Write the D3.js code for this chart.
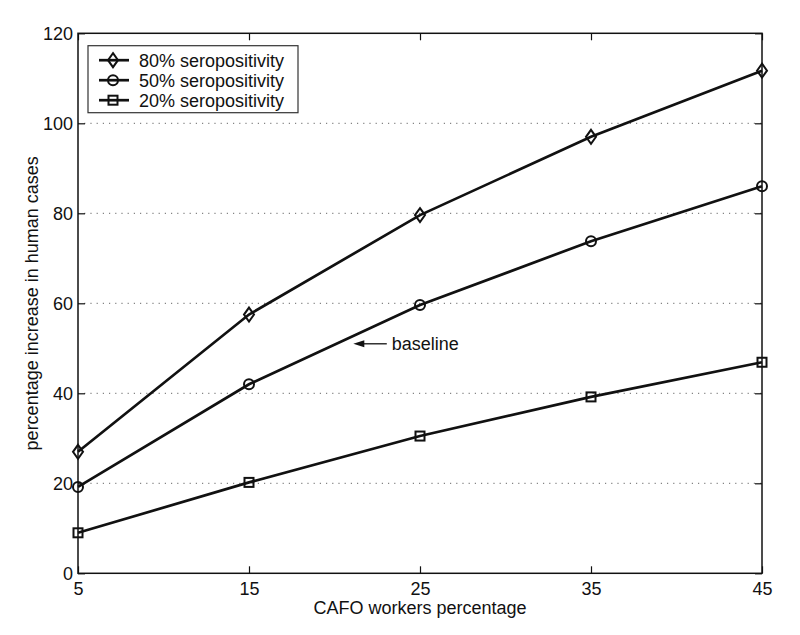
<!DOCTYPE html>
<html><head><meta charset="utf-8">
<script src="https://cdn.jsdelivr.net/npm/d3@7"></script>
<style>body{margin:0;background:#fff}svg{display:block}text{font-family:"Liberation Sans",Arial,sans-serif;fill:#111}</style>
</head><body>
<svg id="c" width="800" height="635"></svg>
<script>
const xValues = [5, 15, 25, 35, 45];
const sero80 = [27, 57.5, 79.6, 97, 111.7];
const sero50 = [19.2, 42, 59.6, 73.8, 86];
const sero20 = [9, 20.2, 30.5, 39.2, 46.9];
const seriesNames = ["80% seropositivity", "50% seropositivity", "20% seropositivity"];
const seriesMarkers = ["diamond", "circle", "square"];
const yTicks = [0, 20, 40, 60, 80, 100, 120];
const xTicks = [5, 15, 25, 35, 45];
const annotation = {text: "baseline", x: 23.35, y: 51, tipX: 21.1};

const series = [sero80, sero50, sero20].map((v, i) => ({name: seriesNames[i], marker: seriesMarkers[i], values: v}));

const FS = 18;
const svg = d3.select("#c");
const m = {l: 78, r: 38, t: 33.3, b: 61.7};
const W = 800 - m.l - m.r, H = 635 - m.t - m.b;
const x = d3.scaleLinear().domain([5, 45]).range([0, W]);
const y = d3.scaleLinear().domain([0, 120]).range([H, 0]);
const g = svg.append("g").attr("transform", `translate(${m.l},${m.t})`);

// gridlines
g.append("g").selectAll("line").data(yTicks.filter(d => d > 0 && d < 120)).join("line")
  .attr("x1", 0).attr("x2", W).attr("y1", d => y(d)).attr("y2", d => y(d))
  .attr("stroke", "#666").attr("stroke-width", 1).attr("stroke-dasharray", "1.2,5");

// axes
const tk = 7;
const ax = g.append("g").attr("transform", `translate(0,${H})`).call(d3.axisBottom(x).tickValues(xTicks).tickSize(-tk).tickPadding(tk + 2).tickFormat(d3.format("d")));
const ay = g.append("g").call(d3.axisLeft(y).tickValues(yTicks).tickSize(-tk).tickPadding(5).tickFormat(d3.format("d")));
const axT = g.append("g").call(d3.axisTop(x).tickValues(xTicks).tickSize(-tk).tickFormat(""));
const ayR = g.append("g").attr("transform", `translate(${W},0)`).call(d3.axisRight(y).tickValues(yTicks).tickSize(-tk).tickFormat(""));
[ax, ay, axT, ayR].forEach(a => {
  a.select(".domain").remove();
  a.selectAll(".tick line").attr("stroke", "#111").attr("stroke-width", 1.2);
  a.selectAll("text").attr("font-size", FS).attr("fill", "#111").attr("font-family", '"Liberation Sans",Arial,sans-serif');
});
ay.selectAll("text").attr("dy", "0.36em");
g.append("rect").attr("width", W).attr("height", H).attr("fill", "none").attr("stroke", "#111").attr("stroke-width", 1.5);

// lines
const line = d3.line().x((d, i) => x(xValues[i])).y(d => y(d));
function marker(sel, type) {
  if (type === "circle") sel.append("circle").attr("r", 5);
  else if (type === "square") sel.append("rect").attr("x", -4.5).attr("y", -4.5).attr("width", 9).attr("height", 9);
  else sel.append("path").attr("d", "M0,-7L5,0L0,7L-5,0Z");
  sel.selectAll("*").attr("fill", "none").attr("stroke", "#111").attr("stroke-width", 2);
}
series.forEach(s => {
  g.append("path").datum(s.values).attr("d", line).attr("fill", "none").attr("stroke", "#111").attr("stroke-width", 2.7);
  s.values.forEach((v, i) => {
    const mg = g.append("g").attr("transform", `translate(${x(xValues[i])},${y(v)})`);
    marker(mg, s.marker);
  });
});

// annotation
const tx = x(annotation.x), tipx = x(annotation.tipX), ay0 = y(annotation.y);
g.append("line").attr("x1", tipx + 8).attr("x2", tx - 5).attr("y1", ay0).attr("y2", ay0)
  .attr("stroke", "#111").attr("stroke-width", 1.3);
g.append("path").attr("d", `M${tipx},${ay0}L${tipx + 11},${ay0 - 3.5}L${tipx + 11},${ay0 + 3.5}Z`).attr("fill", "#111");
g.append("text").attr("x", tx).attr("y", ay0).attr("dy", "0.36em").attr("font-size", FS).text(annotation.text);

// legend
const lg = g.append("g").attr("transform", `translate(${88 - m.l},${45.7 - m.t})`);
lg.append("rect").attr("width", 210).attr("height", 67).attr("fill", "#fff").attr("stroke", "#333").attr("stroke-width", 1.2);
series.forEach((s, i) => {
  const row = lg.append("g").attr("transform", `translate(0,${14.5 + i * 20})`);
  row.append("line").attr("x1", 11).attr("x2", 41).attr("stroke", "#111").attr("stroke-width", 2.7);
  const mg = row.append("g").attr("transform", "translate(25,0)");
  marker(mg, s.marker);
  row.append("text").attr("x", 51).attr("dy", "0.36em").attr("font-size", FS).text(s.name);
});

// axis labels
svg.append("text").attr("x", m.l + W / 2).attr("y", 614).attr("text-anchor", "middle").attr("font-size", FS).text("CAFO workers percentage");
svg.append("text").attr("transform", `translate(38,${m.t + H / 2}) rotate(-90)`).attr("text-anchor", "middle").attr("font-size", FS).text("percentage increase in human cases");
</script>
</body></html>
